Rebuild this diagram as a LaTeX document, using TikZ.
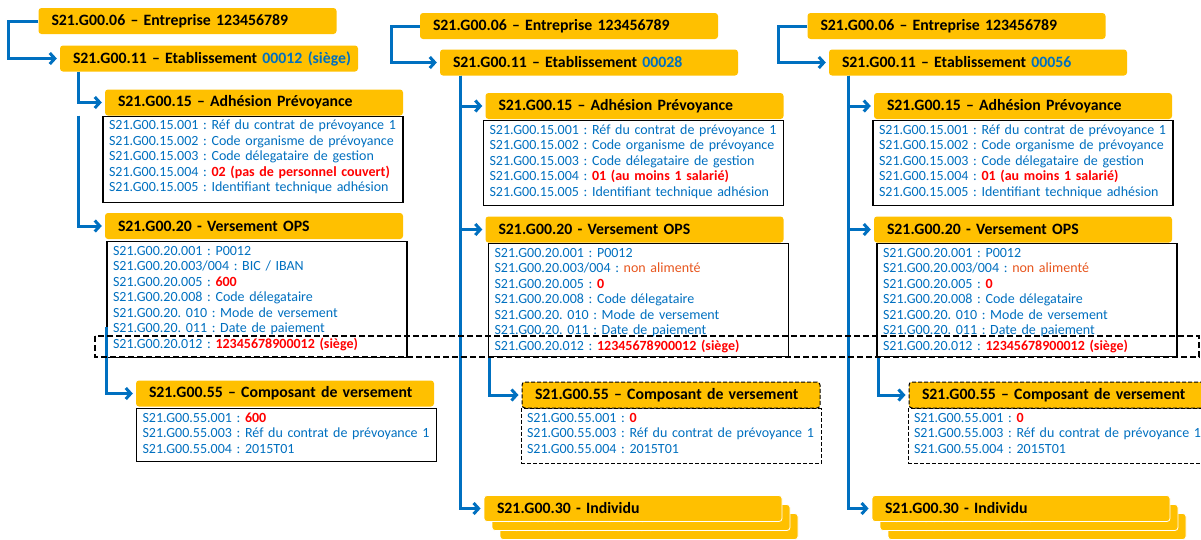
\documentclass[tikz,border=0pt]{standalone}
\usepackage{fontspec}
\setmainfont{Carlito}
\usetikzlibrary{arrows.meta,positioning}

\definecolor{dsngold}{RGB}{255,192,0}
\definecolor{dsnblue}{RGB}{0,112,192}
\definecolor{dsnred}{RGB}{255,0,0}
\definecolor{dsnorange}{RGB}{232,86,30}

\pgfdeclarelayer{background}
\pgfdeclarelayer{foreground}
\pgfsetlayers{background,main,foreground}
\tikzstyle{bloc}=[fill=dsngold, rounded corners=3pt, text width=290pt, inner xsep=4pt, inner ysep=0pt,
    minimum height=26pt, align=left, execute at begin node={\leftskip=9pt},
    font=\fontsize{15.8}{18}\selectfont\bfseries]
\tikzstyle{bloc pointille}=[bloc, draw=black, line width=1pt, dash pattern=on 4pt off 2pt]
\tikzstyle{individu}=[bloc, draw=white, line width=0.8pt]
\tikzstyle{individu cache}=[individu, text=dsngold!25!white]
\tikzstyle{rubriques}=[draw, line width=1.2pt, fill=white, text width=296pt, inner xsep=2pt, inner ysep=0pt,
    text height=13.5pt, align=left, execute at begin node={\leftskip=4pt}, text=dsnblue,
    font=\fontsize{14}{15.5}\selectfont, anchor=north]
\tikzstyle{rubriques pointille}=[rubriques, line width=1pt, dash pattern=on 4pt off 2pt]
\tikzstyle{lien}=[->, >={Straight Barb[length=5pt,width=11pt]}, draw=dsnblue, line width=3pt, shorten >=3pt]
\tikzstyle{siret}=[draw, line width=1.5pt, dash pattern=on 6pt off 3pt]
\def\valrouge#1{\textcolor{dsnred}{\bfseries #1}}
\def\valorange#1{\textcolor{dsnorange}{#1}}

\begin{document}
\frenchspacing
\begin{tikzpicture}[x=1pt,y=1pt]
	\useasboundingbox (0,0) rectangle (1201,-539);

	% Etablissement 00012 (siege)
	\node (ent1) [bloc] at (187.5,-21) {S21.G00.06 -- Entreprise 123456789};
	\node (etab1) [bloc,below of=ent1,node distance=37.5pt,xshift=21.5pt] {S21.G00.11 -- Etablissement \textcolor{dsnblue}{00012 (siège)}};
	\node (adhH1) [bloc,below of=etab1,node distance=44pt,xshift=45pt] {S21.G00.15 -- Adhésion Prévoyance};
	\node (adhB1) [rubriques,below of=adhH1,node distance=13pt,anchor=north,xshift=-1pt,text depth=72.5pt]
		{S21.G00.15.001 : Réf du contrat de prévoyance 1\\
		 S21.G00.15.002 : Code organisme de prévoyance\\
		 S21.G00.15.003 : Code délegataire de gestion\\
		 S21.G00.15.004 : \valrouge{02 (pas de personnel couvert)}\\
		 S21.G00.15.005 : Identifiant technique adhésion};
	\node (versH1) [bloc,below of=adhH1,node distance=123.5pt] {S21.G00.20 - Versement OPS};
	\node (versB1) [rubriques,below of=versH1,node distance=15pt,anchor=north,xshift=3pt,text depth=102.5pt]
		{S21.G00.20.001 : P0012\\
		 S21.G00.20.003/004 : BIC / IBAN\\
		 S21.G00.20.005 : \valrouge{600}\\
		 S21.G00.20.008 : Code délegataire\\
		 S21.G00.20. 010 : Mode de versement\\
		 S21.G00.20. 011 : Date de paiement\\
		 S21.G00.20.012 : \valrouge{12345678900012 (siège)}};
	\node (compH1) [bloc,below of=versH1,node distance=167.5pt,xshift=31pt] {S21.G00.55 -- Composant de versement};
	\node (compB1) [rubriques,below of=compH1,node distance=14.5pt,anchor=north,xshift=1.5pt,text depth=39.5pt]
		{S21.G00.55.001 : \valrouge{600}\\
		 S21.G00.55.003 : Réf du contrat de prévoyance 1\\
		 S21.G00.55.004 : 2015T01};

	% Etablissement 00028
	\node (ent2) [bloc] at (569,-26) {S21.G00.06 -- Entreprise 123456789};
	\node (etab2) [bloc,below of=ent2,node distance=36.5pt,xshift=20pt] {S21.G00.11 -- Etablissement \textcolor{dsnblue}{00028}};
	\node (adhH2) [bloc,below of=etab2,node distance=43.5pt,xshift=45.5pt] {S21.G00.15 -- Adhésion Prévoyance};
	\node (adhB2) [rubriques,below of=adhH2,node distance=14pt,anchor=north,xshift=-1pt,text depth=71.5pt]
		{S21.G00.15.001 : Réf du contrat de prévoyance 1\\
		 S21.G00.15.002 : Code organisme de prévoyance\\
		 S21.G00.15.003 : Code délegataire de gestion\\
		 S21.G00.15.004 : \valrouge{01 (au moins 1 salarié)}\\
		 S21.G00.15.005 : Identifiant technique adhésion};
	\node (versH2) [bloc,below of=adhH2,node distance=123.5pt] {S21.G00.20 - Versement OPS};
	\node (versB2) [rubriques,below of=versH2,node distance=13.5pt,anchor=north,xshift=4pt,text depth=99.5pt]
		{S21.G00.20.001 : P0012\\
		 S21.G00.20.003/004 : \valorange{non alimenté}\\
		 S21.G00.20.005 : \valrouge{0}\\
		 S21.G00.20.008 : Code délegataire\\
		 S21.G00.20. 010 : Mode de versement\\
		 S21.G00.20. 011 : Date de paiement\\
		 S21.G00.20.012 : \valrouge{12345678900012 (siège)}};
	\node (compH2) [bloc pointille,below of=versH2,node distance=165.5pt,xshift=36.5pt] {S21.G00.55 -- Composant de versement};
	\node (compB2) [rubriques pointille,below of=compH2,node distance=13pt,anchor=north,text depth=41.5pt]
		{S21.G00.55.001 : \valrouge{0}\\
		 S21.G00.55.003 : Réf du contrat de prévoyance 1\\
		 S21.G00.55.004 : 2015T01};
	\node (indiv2) [individu,below of=adhH2,node distance=402.5pt,xshift=-1.5pt] {S21.G00.30 - Individu};
	\begin{pgfonlayer}{background}
		\node (indiv2c) [individu cache,below of=indiv2,node distance=18pt,xshift=16pt] {S21.G00.30 - Individu};
		\node (indiv2b) [individu cache,below of=indiv2,node distance=9pt,xshift=8pt] {S21.G00.30 - Individu};
	\end{pgfonlayer}

	% Etablissement 00056
	\node (ent3) [bloc] at (956.5,-26) {S21.G00.06 -- Entreprise 123456789};
	\node (etab3) [bloc,below of=ent3,node distance=36.5pt,xshift=21.5pt] {S21.G00.11 -- Etablissement \textcolor{dsnblue}{00056}};
	\node (adhH3) [bloc,below of=etab3,node distance=43.5pt,xshift=45pt] {S21.G00.15 -- Adhésion Prévoyance};
	\node (adhB3) [rubriques,below of=adhH3,node distance=14pt,anchor=north,text depth=71.5pt]
		{S21.G00.15.001 : Réf du contrat de prévoyance 1\\
		 S21.G00.15.002 : Code organisme de prévoyance\\
		 S21.G00.15.003 : Code délegataire de gestion\\
		 S21.G00.15.004 : \valrouge{01 (au moins 1 salarié)}\\
		 S21.G00.15.005 : Identifiant technique adhésion};
	\node (versH3) [bloc,below of=adhH3,node distance=123.5pt] {S21.G00.20 - Versement OPS};
	\node (versB3) [rubriques,below of=versH3,node distance=13.5pt,anchor=north,xshift=4pt,text depth=99.5pt]
		{S21.G00.20.001 : P0012\\
		 S21.G00.20.003/004 : \valorange{non alimenté}\\
		 S21.G00.20.005 : \valrouge{0}\\
		 S21.G00.20.008 : Code délegataire\\
		 S21.G00.20. 010 : Mode de versement\\
		 S21.G00.20. 011 : Date de paiement\\
		 S21.G00.20.012 : \valrouge{12345678900012 (siège)}};
	\node (compH3) [bloc pointille,below of=versH3,node distance=165.5pt,xshift=35pt] {S21.G00.55 -- Composant de versement};
	\node (compB3) [rubriques pointille,below of=compH3,node distance=13pt,anchor=north,text depth=41.5pt]
		{S21.G00.55.001 : \valrouge{0}\\
		 S21.G00.55.003 : Réf du contrat de prévoyance 1\\
		 S21.G00.55.004 : 2015T01};
	\node (indiv3) [individu,below of=adhH3,node distance=402.5pt,xshift=-2pt] {S21.G00.30 - Individu};
	\begin{pgfonlayer}{background}
		\node (indiv3c) [individu cache,below of=indiv3,node distance=18pt,xshift=16pt] {S21.G00.30 - Individu};
		\node (indiv3b) [individu cache,below of=indiv3,node distance=9pt,xshift=8pt] {S21.G00.30 - Individu};
	\end{pgfonlayer}

	% Define the edges in the picture
	\draw [lien] (ent1.west) -- ++(-30pt,0) |- (etab1.west);
	\draw [lien] ([xshift=19pt]etab1.south west) |- (adhH1.west);
	\draw [lien] ([xshift=-24pt]adhB1.north west) |- (versH1.west);
	\draw [lien] ([yshift=31pt]versB1.south west) |- (compH1.west);

	\draw [lien] (ent2.west) -- ++(-28pt,0) |- (etab2.west);
	\draw [lien] ([xshift=21pt]etab2.south west) |- (adhH2.west);
	\draw [lien] ([xshift=21pt]etab2.south west) |- (versH2.west);
	\draw [lien] ([xshift=21pt]etab2.south west) |- (indiv2.west);
	\draw [lien] ([xshift=2pt]versB2.south west) |- (compH2.west);

	\draw [lien] (ent3.west) -- ++(-29pt,0) |- (etab3.west);
	\draw [lien] ([xshift=20pt]etab3.south west) |- (adhH3.west);
	\draw [lien] ([xshift=20pt]etab3.south west) |- (versH3.west);
	\draw [lien] ([xshift=20pt]etab3.south west) |- (indiv3.west);
	\draw [lien] ([xshift=2pt]versB3.south west) |- (compH3.west);

	% SIRET du siege
	\draw [siret] (95,-336) rectangle (1199,-357);
\end{tikzpicture}
\end{document}
